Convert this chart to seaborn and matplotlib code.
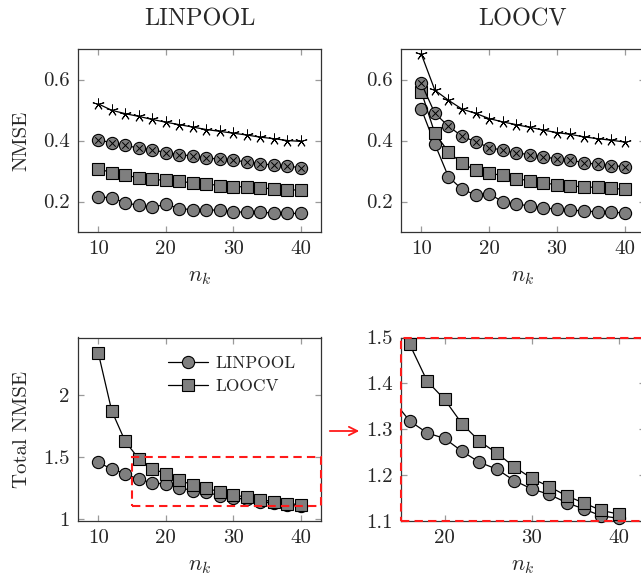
import pandas as pd
import matplotlib.pyplot as plt
import seaborn as sns
from matplotlib.patches import Rectangle
from matplotlib.ticker import StrMethodFormatter

#################### CONFIG ####################
sns.set_style("ticks")
plt.rcParams["font.family"] = "serif"
plt.rcParams["font.serif"] = ["cmr10"]
plt.rcParams["mathtext.fontset"] = "cm"
plt.rcParams["axes.unicode_minus"] = False
plt.rcParams["font.size"] = 15

GRAY = "#7f7f7f"
RED = "#ff1a1a"

#################### DATA ####################
nk = [10, 12, 14, 16, 18, 20, 22, 24, 26, 28, 30, 32, 34, 36, 38, 40]

# LINPOOL, per-group NMSE
lin_star = [0.520, 0.499, 0.488, 0.479, 0.469, 0.460, 0.452, 0.444,
            0.436, 0.430, 0.424, 0.418, 0.411, 0.406, 0.400, 0.397]
lin_otimes = [0.403, 0.392, 0.384, 0.375, 0.370, 0.360, 0.354, 0.349,
              0.344, 0.338, 0.335, 0.330, 0.324, 0.319, 0.316, 0.311]
lin_square = [0.308, 0.294, 0.286, 0.278, 0.273, 0.269, 0.266, 0.261,
              0.258, 0.252, 0.249, 0.248, 0.245, 0.241, 0.239, 0.237]
lin_circle = [0.215, 0.212, 0.196, 0.187, 0.181, 0.191, 0.177, 0.173,
              0.173, 0.171, 0.166, 0.165, 0.164, 0.163, 0.161, 0.161]

# LOOCV, per-group NMSE
loo_star = [0.683, 0.565, 0.532, 0.503, 0.489, 0.472, 0.461, 0.452,
            0.443, 0.434, 0.426, 0.420, 0.412, 0.406, 0.401, 0.395]
loo_otimes = [0.587, 0.489, 0.447, 0.414, 0.396, 0.377, 0.368, 0.360,
              0.353, 0.346, 0.340, 0.336, 0.327, 0.322, 0.318, 0.314]
loo_square = [0.560, 0.423, 0.363, 0.325, 0.303, 0.292, 0.286, 0.275,
              0.268, 0.261, 0.255, 0.251, 0.248, 0.246, 0.243, 0.240]
loo_circle = [0.503, 0.388, 0.281, 0.240, 0.222, 0.226, 0.199, 0.191,
              0.186, 0.180, 0.174, 0.172, 0.169, 0.166, 0.164, 0.163]

# total NMSE
total_lin = [1.456, 1.402, 1.365, 1.318, 1.292, 1.280, 1.252, 1.228,
             1.213, 1.188, 1.170, 1.158, 1.140, 1.126, 1.111, 1.106]
total_loo = [2.340, 1.871, 1.625, 1.485, 1.405, 1.365, 1.312, 1.274,
             1.248, 1.218, 1.193, 1.175, 1.155, 1.139, 1.123, 1.115]

top_yticks = [0.2, 0.4, 0.6]
bl_yticks = [1, 1.5, 2]
br_yticks = [1.1, 1.2, 1.3, 1.4, 1.5]

#################### FIGURE ####################
W, H = 641, 580
fig = plt.figure(figsize=(W / 100, H / 100), dpi=100)


def px_axes(x0, x1, y0, y1):
    return fig.add_axes([x0 / W, 1 - y1 / H, (x1 - x0) / W, (y1 - y0) / H])


ax_tl = px_axes(78, 321, 49, 232)
ax_tr = px_axes(401, 645, 49, 232)
ax_bl = px_axes(78, 321, 337.5, 521)
ax_br = px_axes(401, 645, 337.5, 521)

line_kw = dict(color="black", lw=0.9)
mk_kw = dict(markerfacecolor=GRAY, markeredgecolor="black", markeredgewidth=0.8)


def draw_top(ax, star, otimes, square, circle):
    sns.lineplot(x=nk, y=circle, ax=ax, marker="o", markersize=8.8, **line_kw, **mk_kw)
    sns.lineplot(x=nk, y=square, ax=ax, marker="s", markersize=8.6, **line_kw, **mk_kw)
    sns.lineplot(x=nk, y=otimes, ax=ax, marker="o", markersize=8.8, **line_kw, **mk_kw)
    sns.scatterplot(x=nk, y=otimes, ax=ax, marker="x", s=22, color="black",
                    linewidth=0.7, zorder=3)
    sns.lineplot(x=nk, y=star, ax=ax, marker=(5, 2, 0), markersize=8.5,
                 markeredgewidth=0.7, markeredgecolor="black", **line_kw)
    ax.set_xlim(7, 43)
    ax.set_ylim(0.1, 0.7)
    ax.set_yticks(top_yticks)


draw_top(ax_tl, lin_star, lin_otimes, lin_square, lin_circle)
draw_top(ax_tr, loo_star, loo_otimes, loo_square, loo_circle)
ax_tl.set_title("LINPOOL", fontsize=17.5, pad=17)
ax_tr.set_title("LOOCV", fontsize=17.5, pad=17)
ax_tl.set_ylabel("NMSE", labelpad=9)

# Total NMSE
sns.lineplot(x=nk, y=total_lin, ax=ax_bl, marker="o", markersize=8.8,
             label="LINPOOL", **line_kw, **mk_kw)
sns.lineplot(x=nk, y=total_loo, ax=ax_bl, marker="s", markersize=8.6,
             label="LOOCV", **line_kw, **mk_kw)
ax_bl.set_xlim(7, 43)
ax_bl.set_ylim(0.983, 2.463)
ax_bl.set_yticks(bl_yticks)
ax_bl.yaxis.set_major_formatter(StrMethodFormatter("{x:g}"))
ax_bl.set_ylabel("Total NMSE", labelpad=9)
ax_bl.legend(loc="upper right", bbox_to_anchor=(0.93, 0.95), frameon=False,
             fontsize=12.5, handlelength=2.3, handletextpad=0.4,
             borderpad=0, labelspacing=0.45)
ax_bl.add_patch(Rectangle((15, 1.1), 28, 0.4, fill=False, ec=RED, lw=1.5,
                          ls=(0, (4, 2.5)), clip_on=False, zorder=5))

# zoomed view
df_tot = pd.DataFrame({"nk": nk, "lin": total_lin, "loo": total_loo})
in_view = df_tot.query("nk >= 15")
for col, mk, ms in [("lin", "o", 8.8), ("loo", "s", 8.6)]:
    sns.lineplot(data=df_tot, x="nk", y=col, ax=ax_br, **line_kw)
    ax_br.plot(in_view["nk"], in_view[col], ls="", marker=mk, markersize=ms,
               clip_on=False, zorder=3, **mk_kw)
ax_br.set_xlim(15, 43)
ax_br.set_ylim(1.1, 1.5)
ax_br.set_yticks(br_yticks)
ax_br.set_xticks([20, 30, 40])
ax_br.add_patch(Rectangle((0, 0), 1, 1, transform=ax_br.transAxes, fill=False,
                          ec=RED, lw=1.5, ls=(0, (4, 2.5)), clip_on=False, zorder=6))

for ax in [ax_tl, ax_tr, ax_bl, ax_br]:
    ax.tick_params(direction="in", top=True, right=True, length=4, width=0.9,
                   color="#9a9a9a", labelsize=15, pad=6)
    for sp in ax.spines.values():
        sp.set_color("#333333")
        sp.set_linewidth(0.9)
    ax.set_xlabel("$n_k$", fontsize=16, labelpad=7)
    if ax in (ax_tr, ax_br):
        ax.set_ylabel("")
    if ax in (ax_tl, ax_tr, ax_bl):
        ax.set_xticks([10, 20, 30, 40])

# arrow from the dashed box to the zoomed view
ax_bl.annotate("", xy=(362 / W, 1 - 431 / H), xytext=(327 / W, 1 - 431 / H),
               xycoords="figure fraction", textcoords="figure fraction",
               arrowprops=dict(arrowstyle="->", color=RED, lw=1.3))

plt.savefig("out.png", dpi=100, facecolor="white")
